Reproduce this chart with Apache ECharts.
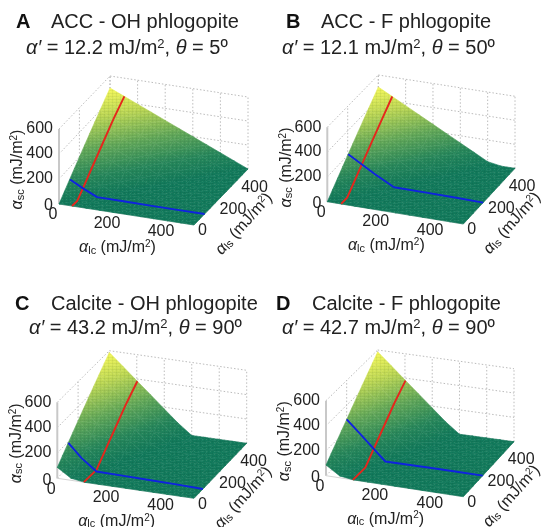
<!DOCTYPE html>
<html><head><meta charset="utf-8">
<style>html,body{margin:0;padding:0;background:#fff}#c{width:541px;height:527px}#c canvas{filter:blur(0.45px)}</style>
<script src="https://cdn.jsdelivr.net/npm/echarts@6/dist/echarts.min.js"></script>
</head><body><div id="c"></div>
<script>
const nodes=[0,50,100,150,200,250,300,350,400,450,500];
// surface tables: rows are alpha_ls (0..500), columns alpha_lc (0..500)
const surfaceA=[
[0,0,0,0,0,0,0,0,0,0,0],
[50,0,0,0,0,0,0,0,0,0,0],
[100,50,0,0,0,0,0,0,0,0,0],
[150,100,50,0,0,0,0,0,0,0,0],
[200,150,100,50,0,0,0,0,0,0,0],
[250,200,150,100,50,0,0,0,0,0,0],
[300,250,200,150,100,50,0,0,0,0,0],
[350,300,250,200,150,100,50,0,0,0,0],
[400,350,300,250,200,150,100,50,0,0,0],
[450,400,350,300,250,200,150,100,50,0,0],
[500,450,400,350,300,250,200,150,100,50,0]];
const surfaceB=[
[0,0,0,0,0,0,0,0,0,0,0],
[50,0,0,0,0,0,0,0,0,0,0],
[100,40,0,0,0,0,0,0,0,0,0],
[150,90,30,0,0,0,0,0,0,0,0],
[200,140,80,20,0,0,0,0,0,0,0],
[250,190,130,70,10,0,0,0,0,0,0],
[300,240,180,120,60,0,0,0,0,0,0],
[350,290,230,170,110,50,0,0,0,0,0],
[400,340,280,220,160,100,40,0,0,0,0],
[450,390,330,270,210,150,90,30,0,0,0],
[500,440,380,320,260,200,140,80,20,0,0]];
const surfaceC=[
[86,16,0,0,0,0,0,0,0,0,0],
[136,38,0,0,0,0,0,0,0,0,0],
[186,86,0,0,0,0,0,0,0,0,0],
[236,136,36,0,0,0,0,0,0,0,0],
[286,186,86,0,0,0,0,0,0,0,0],
[336,236,136,36,0,0,0,0,0,0,0],
[386,286,186,86,0,0,0,0,0,0,0],
[436,336,236,136,36,0,0,0,0,0,0],
[486,386,286,186,86,0,0,0,0,0,0],
[536,436,336,236,136,36,0,0,0,0,0],
[586,486,386,286,186,86,0,0,0,0,0]];
const surfaceD=[
[85,15,0,0,0,0,0,0,0,0,0],
[135,38,0,0,0,0,0,0,0,0,0],
[185,85,0,0,0,0,0,0,0,0,0],
[235,135,35,0,0,0,0,0,0,0,0],
[285,185,85,0,0,0,0,0,0,0,0],
[335,235,135,35,0,0,0,0,0,0,0],
[385,285,185,85,0,0,0,0,0,0,0],
[435,335,235,135,35,0,0,0,0,0,0],
[485,385,285,185,85,0,0,0,0,0,0],
[535,435,335,235,135,35,0,0,0,0,0],
[585,485,385,285,185,85,0,0,0,0,0]];
// curves on the surfaces: [alpha_lc, alpha_ls, alpha_sc]
const redA=[[48,0,0],[50,45,0],[50,100,50],[50,200,150],[50,300,250],[50,400,350],[52,500,448]];
const blueA=[[0,108,100],[50,103,50],[103,100,0],[200,100,0],[300,98,0],[400,98,0],[500,98,0]];
const redB=[[51,0,0],[51,60,0],[51,100,40],[51,200,140],[51,300,240],[51,400,340],[51,500,439]];
const blueB=[[0,205,205],[50,203,142],[100,201,80],[170,200,0],[300,198,0],[400,196,0],[500,192,0]];
const redC=[[97,0,0],[100,114,0],[100,200,86],[100,300,186],[100,400,286],[102,500,382]];
const blueC=[[0,106,190],[50,102,88],[105,100,0],[200,98,0],[300,94,0],[400,90,0],[500,85,0]];
const redD=[[98,0,0],[100,115,0],[100,200,85],[100,300,185],[100,400,285],[102,500,380]];
const blueD=[[0,200,285],[50,198,185],[100,195,85],[145,190,0],[300,192,0],[400,192,0],[500,192,0]];
const zTicks=[0,200,400,600];
const lcTicks=[0,200,400];
const lsTicks=[0,200,400];
const lcGrid=[0,100,200,300,400,500];
const lsGrid=[200,500];
const titles=['ACC - OH phlogopite','ACC - F phlogopite','Calcite - OH phlogopite','Calcite - F phlogopite'];
const letters=['A','B','C','D'];
const subtitles=['{i|α′} = 12.2 mJ/m{u|2}, {i|θ} = 5º','{i|α′} = 12.1 mJ/m{u|2}, {i|θ} = 50º','{i|α′} = 43.2 mJ/m{u|2}, {i|θ} = 90º','{i|α′} = 42.7 mJ/m{u|2}, {i|θ} = 90º'];

const FONT='"Liberation Sans",Arial,sans-serif', INK='#222222';
const panels=[
{s:surfaceA,red:redA,blue:blueA,O:[59,204],X:[194,225],Y:[110,148],XY:[248,169],zf:75,zb:72,letter:[16,12],title:[51,12],sub:[26,38]},
{s:surfaceB,red:redB,blue:blueB,O:[327.3,201.7],X:[463.3,224],Y:[378.3,147],XY:[515,168.3],zf:74.5,zb:72,letter:[286,12],title:[321,12],sub:[282,38]},
{s:surfaceC,red:redC,blue:blueC,O:[57.3,478.3],X:[194,498.3],Y:[109.3,423.7],XY:[246.7,443.3],zf:76,zb:73,letter:[15,294],title:[51,294],sub:[29,318]},
{s:surfaceD,red:redD,blue:blueD,O:[326,475.7],X:[463.3,496.7],Y:[377.7,423],XY:[514,441.7],zf:75,zb:73,letter:[276,294],title:[312,294],sub:[282,318]}];

function project(p,a,s,z){
  const u=a/500,v=s/500;
  const bl=k=>(1-u)*(1-v)*p.O[k]+u*(1-v)*p.X[k]+(1-u)*v*p.Y[k]+u*v*p.XY[k];
  const zs=(p.zf+(p.zb-p.zf)*v)/600;
  return [bl(0),bl(1)-z*zs];
}
const STOPS=[[0,[18,122,92]],[0.2,[40,136,92]],[0.45,[98,168,90]],[0.75,[190,216,85]],[1,[245,248,90]]];
function cmap(t){
  t=Math.max(0,Math.min(1,t));
  for(let i=1;i<STOPS.length;i++){ if(t<=STOPS[i][0]){
    const a=STOPS[i-1],b=STOPS[i],f=(t-a[0])/(b[0]-a[0]);
    const c=a[1].map((x,k)=>Math.round(x+(b[1][k]-x)*f));
    return `rgb(${c[0]},${c[1]},${c[2]})`; } }
  return 'rgb(245,248,90)';
}
function triFill(pts,ts){
  const lo=Math.min(...ts),hi=Math.max(...ts);
  if(hi-lo<1e-6) return cmap(lo);
  const [x0,y0]=pts[0],[x1,y1]=pts[1],[x2,y2]=pts[2];
  const d=(x1-x0)*(y2-y0)-(x2-x0)*(y1-y0);
  if(Math.abs(d)<1e-6) return cmap((lo+hi)/2);
  const gx=((ts[1]-ts[0])*(y2-y0)-(ts[2]-ts[0])*(y1-y0))/d;
  const gy=((ts[2]-ts[0])*(x1-x0)-(ts[1]-ts[0])*(x2-x0))/d;
  const g2=gx*gx+gy*gy, m=ts.indexOf(lo), P=pts[m], L=(hi-lo)/g2;
  const stops=[];
  for(let i=0;i<=6;i++){const f=i/6;stops.push({offset:f,color:cmap(lo+(hi-lo)*f)});}
  return new echarts.graphic.LinearGradient(P[0],P[1],P[0]+gx*L,P[1]+gy*L,stops,true);
}
// fine mesh texture of the surface
const tile=document.createElement('canvas');tile.width=4;tile.height=3;
(function(){const g=tile.getContext('2d');
  g.fillStyle='rgba(0,40,20,0.05)';g.fillRect(0,0,4,1);g.fillRect(0,0,1,3);
  g.fillStyle='rgba(255,255,200,0.10)';g.fillRect(2,1,1,1);})();
const meshFill={image:tile,repeat:'repeat'};

const series=[];
const titleOpt=[];
const rich={i:{fontStyle:'italic',fontSize:20,fontFamily:FONT,color:INK},u:{fontSize:13,verticalAlign:'top',fontFamily:FONT,color:INK,padding:[0,0,6,0]}};
const tr={sub:{fontSize:11,verticalAlign:'bottom',fontFamily:FONT,fill:INK,padding:[6,0,0,0]},i:{fontStyle:'italic',fontSize:16,fontFamily:FONT,fill:INK},u:{fontSize:10,verticalAlign:'top',fontFamily:FONT,fill:INK,padding:[0,0,4,0]}};

panels.forEach((p,idx)=>{
  titleOpt.push({text:letters[idx],left:p.letter[0],top:p.letter[1],padding:0,textStyle:{fontFamily:FONT,fontSize:20,fontWeight:'bold',color:'#111'}});
  titleOpt.push({text:titles[idx],left:p.title[0],top:p.title[1],padding:0,textStyle:{fontFamily:FONT,fontSize:20,fontWeight:'normal',color:INK}});
  titleOpt.push({text:subtitles[idx],left:p.sub[0],top:p.sub[1],padding:0,textStyle:{fontFamily:FONT,fontSize:20,fontWeight:'normal',color:INK,rich}});
  // walls
  const walls=[];
  lcGrid.forEach(a=>walls.push([a,500,0,a,500,600,0]));
  zTicks.forEach(z=>{walls.push([0,500,z,500,500,z,0]);walls.push([0,0,z,0,500,z,0]);});
  lsGrid.forEach(s=>walls.push([0,s,0,0,s,600,0]));
  walls.push([0,0,0,0,0,600,1]);
  walls.push([0,0,0,500,0,0,2]);
  walls.push([500,0,0,500,500,0,2]);
  series.push({type:'custom',coordinateSystem:'cartesian2d',silent:true,clip:false,z:1,data:walls,animation:false,
    renderItem:(q,api)=>{
      const v=i=>api.value(i);
      const A=api.coord(project(p,v(0),v(1),v(2))),B=api.coord(project(p,v(3),v(4),v(5))),k=v(6);
      return {type:'line',shape:{x1:A[0],y1:A[1],x2:B[0],y2:B[1]},
        style:k===1?{stroke:'#c8c8c8',lineWidth:2}:k===2?{stroke:'#d4d4d4',lineWidth:1}:{stroke:'#bcbcbc',lineWidth:1,lineDash:[1.5,2]}};
    }});
  // surface
  const peak=Math.max(...p.s.map(r=>Math.max(...r)));
  const tris=[];
  for(let j=0;j<10;j++)for(let i=0;i<10;i++){
    const n=(a,b)=>[nodes[a],nodes[b],p.s[b][a]];
    tris.push([...n(i,j),...n(i+1,j+1),...n(i,j+1)]);
    tris.push([...n(i,j),...n(i+1,j),...n(i+1,j+1)]);
  }
  // far to near so overlapping edges stay correct
  tris.sort((a,b)=>(b[1]+b[4]+b[7])-(a[1]+a[4]+a[7]));
  series.push({type:'custom',coordinateSystem:'cartesian2d',silent:true,clip:false,z:2,data:tris,animation:false,
    renderItem:(q,api)=>{
      const v=i=>api.value(i);
      const raw=[0,3,6].map(o=>[v(o),v(o+1),v(o+2)]);
      const pts=raw.map(r=>api.coord(project(p,r[0],r[1],r[2])));
      const f=triFill(pts,raw.map(r=>r[2]/peak));
      return {type:'group',children:[
        {type:'polygon',shape:{points:pts},style:{fill:f,stroke:f,lineWidth:0.6}},
        {type:'polygon',shape:{points:pts},style:{fill:meshFill}}]};
    }});
  // curves
  [[p.red,'#e6261c'],[p.blue,'#0f22e0']].forEach(([arr,col])=>{
    series.push({type:'line',coordinateSystem:'cartesian2d',silent:true,clip:false,z:3,animation:false,showSymbol:false,symbol:'none',
      data:arr.map(r=>project(p,r[0],r[1],r[2])),lineStyle:{color:col,width:1.9}});
  });
  // tick marks and labels
  const labels=[];
  zTicks.forEach(z=>{const P=project(p,0,0,z);labels.push([P[0]-6,P[1]+(z?0:2),String(z),'right']);});
  lcTicks.forEach(a=>{const P=project(p,a,0,0);labels.push([P[0]-6,P[1]+11,String(a),'center']);});
  lsTicks.forEach(s=>{const P=project(p,500,s,0);labels.push([P[0]+4,P[1]+(s?7:6),String(s),'left']);});
  series.push({type:'custom',coordinateSystem:'cartesian2d',silent:true,clip:false,z:4,animation:false,
    data:labels.map((l,i)=>[l[0],l[1],i]),
    renderItem:(q,api)=>{
      const l=labels[api.value(2)],P=api.coord([l[0],l[1]]);
      return {type:'text',x:P[0],y:P[1],style:{text:l[2],fontFamily:FONT,fontSize:16,fill:INK,align:l[3],verticalAlign:'middle'}};
    }});
  // axis titles
  const P0=project(p,250,0,0),Pz=project(p,0,0,300),Ps=project(p,500,250,0);
  const axt=[
    [P0[0]-9,P0[1]+33,'{i|α}{sub|lc} (mJ/m{u|2})',0],
    [Pz[0]-41,Pz[1]+3,'{i|α}{sub|sc} (mJ/m{u|2})',Math.PI/2],
    [Ps[0]+23,Ps[1]+27,'{i|α}{sub|ls} (mJ/m{u|2})',0.84]];
  series.push({type:'custom',coordinateSystem:'cartesian2d',silent:true,clip:false,z:4,animation:false,
    data:axt.map((l,i)=>[l[0],l[1],i]),
    renderItem:(q,api)=>{
      const l=axt[api.value(2)],P=api.coord([l[0],l[1]]);
      return {type:'text',x:P[0],y:P[1],rotation:l[3],style:{text:l[2],rich:tr,fontFamily:FONT,fontSize:16,fill:INK,align:'center',verticalAlign:'middle'}};
    }});
});
const chart=echarts.init(document.getElementById('c'),null,{renderer:'canvas',width:541,height:527});
chart.setOption({animation:false,backgroundColor:'#fff',title:titleOpt,
  grid:{left:0,right:0,top:0,bottom:0},
  xAxis:{type:'value',min:0,max:541,show:false},
  yAxis:{type:'value',min:0,max:527,inverse:true,show:false},
  series});
</script></body></html>
